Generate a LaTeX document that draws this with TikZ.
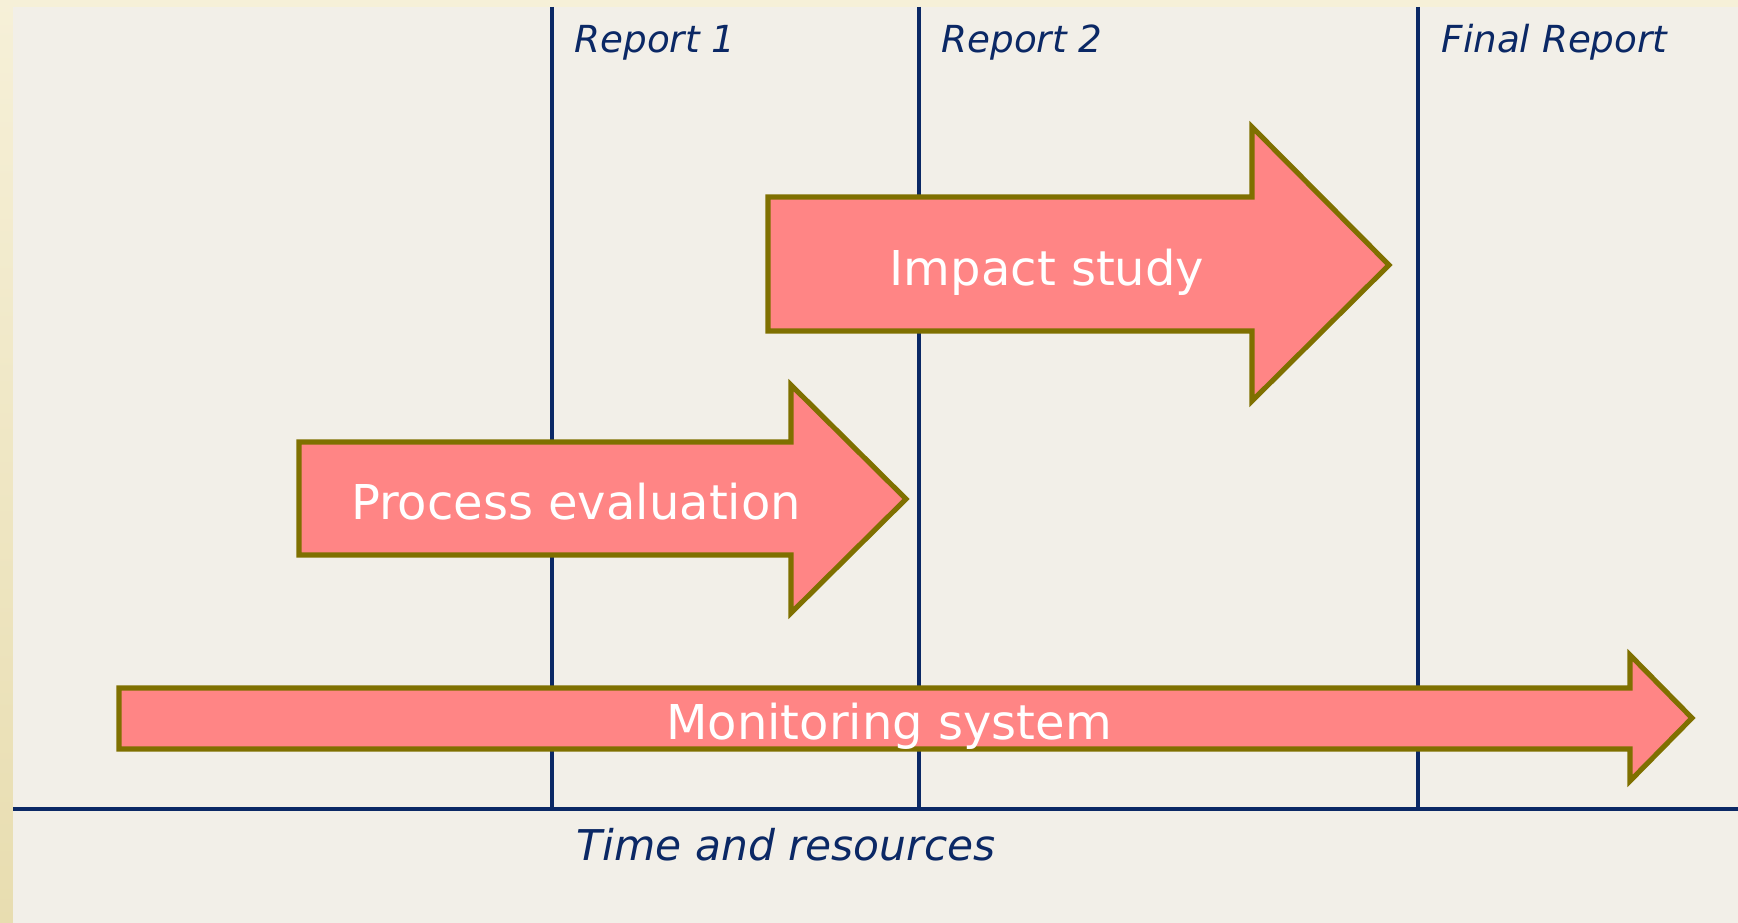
\documentclass[tikz,border=0pt]{standalone}
\usepackage{fontspec}
\setmainfont{DejaVu Sans}
\definecolor{paper}{HTML}{F2EFE8}
\definecolor{rimtop}{HTML}{F6F0D8}
\definecolor{rimbot}{HTML}{E8DDB0}
\definecolor{navy}{HTML}{0B2865}
\definecolor{olive}{HTML}{7F7000}
\definecolor{salmon}{HTML}{FF8585}
\tikzset{
  axis/.style={navy, line width=0.9pt},
  phase/.style={draw=olive, fill=salmon, line width=1.45pt, line join=miter},
  phasetext/.style={white, inner sep=0pt, anchor=base, font=\fontsize{13.66}{16}\selectfont},
  reptext/.style={navy, inner sep=0pt, anchor=base west, font=\fontsize{10.6}{12}\selectfont\itshape},
}
\begin{document}
\begin{tikzpicture}[x=0.1mm, y=-0.1mm]
\useasboundingbox (0,0) rectangle (1738,923);
% frame and panel
\shade[top color=rimtop, bottom color=rimbot] (0,0) rectangle (1738,923);
\fill[paper] (13,7) rectangle (1738,923);
% time axis and report lines
\coordinate (ax0) at (13,809);
\coordinate (ax1) at (1738,809);
\coordinate (r1top) at (552,7);
\coordinate (r1bot) at (552,809);
\coordinate (r2top) at (919,7);
\coordinate (r2bot) at (919,809);
\coordinate (r3top) at (1418,7);
\coordinate (r3bot) at (1418,809);
\draw[axis] (ax0) -- (ax1);
\draw[axis] (r1top) -- (r1bot);
\draw[axis] (r2top) -- (r2bot);
\draw[axis] (r3top) -- (r3bot);
\node[reptext] (rep1) at (574,53) {Report 1};
\node[reptext] (rep2) at (941,53) {Report 2};
\node[reptext] (final) at (1441,53) {Final Report};
\node[navy, inner sep=0pt, anchor=base west, font=\fontsize{12.06}{14}\selectfont\itshape] (time) at (576,860) {Time and resources};
% phases
\draw[phase] (768,197) -- (1252,197) -- (1252,127) -- (1389,265) -- (1252,401) -- (1252,331) -- (768,331) -- cycle;
\draw[phase] (299,442) -- (791,442) -- (791,385) -- (906,499) -- (791,613) -- (791,555) -- (299,555) -- cycle;
\draw[phase] (119,688) -- (1630,688) -- (1630,655) -- (1692,718) -- (1630,781) -- (1630,749) -- (119,749) -- cycle;
\node[phasetext] (impact) at (1047,286) {Impact study};
\node[phasetext] (process) at (576,520) {Process evaluation};
\node[phasetext] (monitor) at (889,739) {Monitoring system};
\end{tikzpicture}
\end{document}
